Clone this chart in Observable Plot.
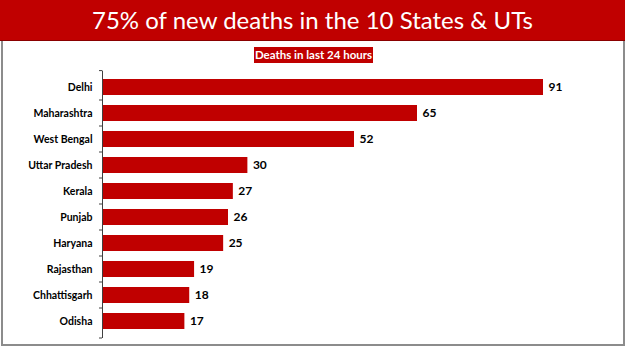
<!DOCTYPE html>
<html>
<head>
<meta charset="utf-8">
<script src="https://cdn.jsdelivr.net/npm/d3@7"></script>
<script src="https://cdn.jsdelivr.net/npm/@observablehq/plot@0.6"></script>
<style>
  html, body { margin: 0; padding: 0; background: #fff; }
  #wrap { position: relative; width: 625px; height: 351px; overflow: hidden; background: #fff; }
  #banner { position: absolute; left: 0; top: 0; width: 625px; height: 40px; background: #C00000; border-bottom: 1px solid #8a0000; }
  #title { position: absolute; left: 0; top: 5px; width: 625px; text-align: center; color: #fff;
           font-family: Lato, "Open Sans", sans-serif; font-size: 24px; line-height: 30px; white-space: nowrap; }
  #frame { position: absolute; left: 1px; top: 41px; width: 620px; height: 303px;
           border-left: 2px solid #8c8c8c; border-right: 2px solid #8c8c8c; border-bottom: 2px solid #8c8c8c; }
  #subtitle { position: absolute; left: 254px; top: 47px; width: 119px; height: 16px; background: #C00000;
              color: #fff; font-family: Lato, sans-serif; font-weight: bold; font-size: 11.5px; line-height: 16px; text-align: center; white-space: nowrap; }
  #chart { position: absolute; left: 0; top: 64px; }
</style>
</head>
<body>
<div id="wrap">
  <div id="banner"></div>
  <div id="title"></div>
  <div id="frame"></div>
  <div id="subtitle"></div>
  <div id="chart"></div>
</div>
<script>
const titleText = "75% of new deaths in the 10 States & UTs";
const subtitleText = "Deaths in last 24 hours";
const states = ["Delhi", "Maharashtra", "West Bengal", "Uttar Pradesh", "Kerala", "Punjab", "Haryana", "Rajasthan", "Chhattisgarh", "Odisha"];
const deaths = [91, 65, 52, 30, 27, 26, 25, 19, 18, 17];

document.getElementById("title").textContent = titleText;
document.getElementById("subtitle").textContent = subtitleText;

const data = states.map((s, i) => ({state: s, value: deaths[i]}));
const red = "#C00000";

// small tick marks at category boundaries on the left of the axis (Excel style)
function boundaryTicks(index, scales, values, dimensions) {
  const y = scales.y;
  const bw = y.bandwidth ? y.bandwidth() : 0;
  const x0 = dimensions.marginLeft;
  const ys = [dimensions.marginTop];
  for (let i = 0; i < states.length - 1; i++) {
    ys.push((y(states[i]) + y(states[i + 1])) / 2 + bw / 2);
  }
  ys.push(dimensions.height - dimensions.marginBottom);
  const g = d3.create("svg:g");
  g.selectAll("line").data(ys).join("line")
    .attr("x1", x0 - 3).attr("x2", x0)
    .attr("y1", d => d).attr("y2", d => d)
    .attr("stroke", "#404040").attr("stroke-width", 1);
  return g.node();
}

const chart = Plot.plot({
  width: 625,
  height: 280,
  marginLeft: 102,
  marginRight: 82,
  marginTop: 6.6,
  marginBottom: 6,
  style: {fontFamily: "Lato, 'Open Sans', sans-serif", background: "transparent"},
  x: {axis: null, domain: [0, d3.max(deaths)]},
  y: {domain: states, paddingInner: 0.4, paddingOuter: 0.2, label: null},
  marks: [
    Plot.barX(data, {x: "value", y: "state", fill: red}),
    Plot.text(data, {x: "value", y: "state", text: d => String(d.value), textAnchor: "start", dx: 5,
                     fontWeight: "bold", fontSize: 12, fill: "#000"}),
    Plot.axisY({tickSize: 0, tickPadding: 10, fontSize: 10.5, fontWeight: "bold", fill: "#000", label: null}),
    Plot.ruleX([0], {stroke: "#404040", strokeWidth: 1}),
    boundaryTicks
  ]
});
document.getElementById("chart").appendChild(chart);
</script>
</body>
</html>
